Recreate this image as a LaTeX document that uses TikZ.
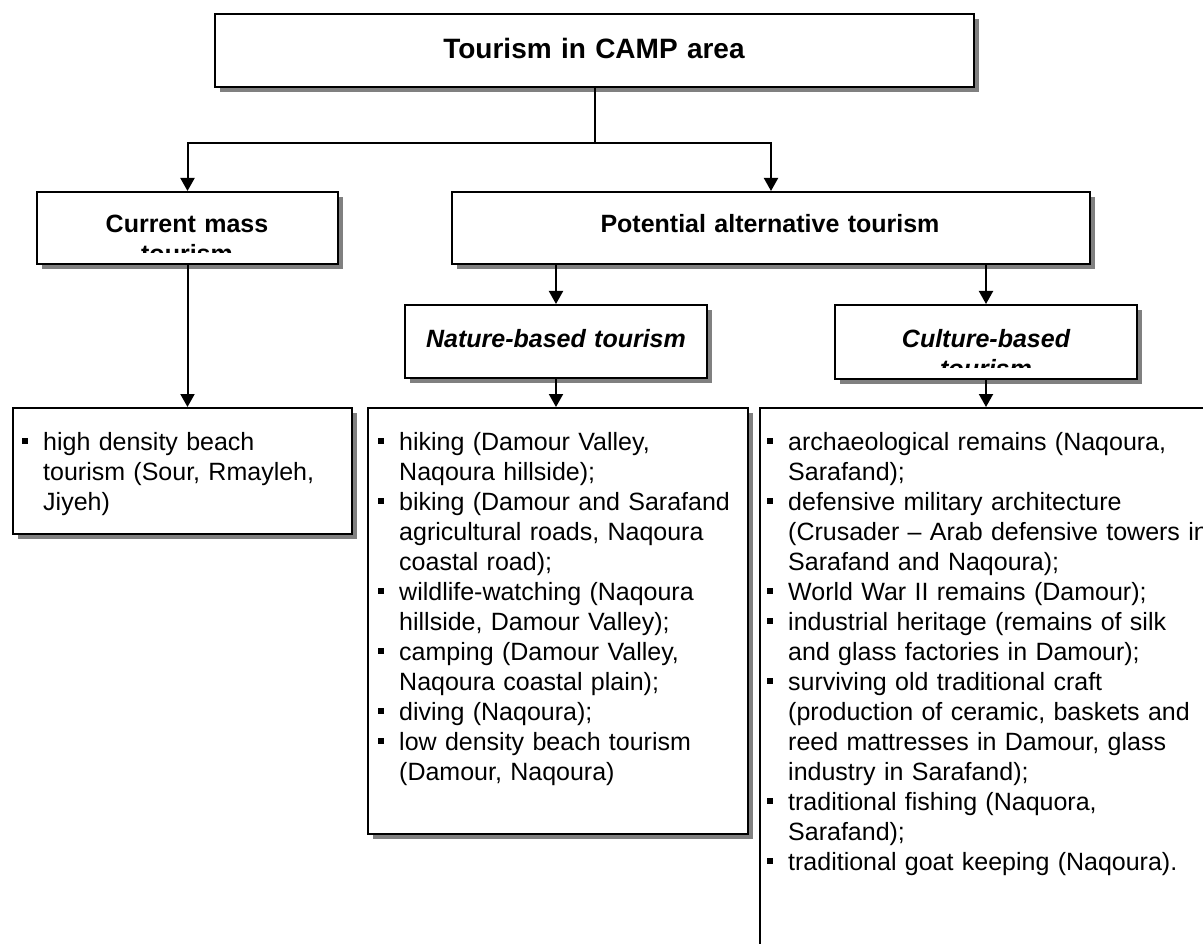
\documentclass[tikz,border=0pt]{standalone}
\usepackage{fontspec}
\setmainfont{Liberation Sans}
\usetikzlibrary{arrows.meta,shadows}
\definecolor{shadowgray}{RGB}{128,128,128}
\newcommand\bitem{\makebox[21pt][l]{\rule[6pt]{6pt}{6pt}}}
\newcommand\bcont{\hspace*{21pt}}
\begin{document}
\begin{tikzpicture}[x=1pt,y=-1pt,
  box/.style={draw=black, line width=2pt, fill=white, inner sep=0pt, anchor=north west},
  shadowed/.style={drop shadow={shadow xshift=5pt, shadow yshift=-5pt, fill=shadowgray, opacity=1}},
  conn/.style={line width=2pt, draw=black},
  arr/.style={conn, -{Triangle[length=13pt,width=14pt]}},
  title/.style={font=\fontsize{25}{30}\selectfont\bfseries, inner sep=0pt, anchor=base, text width=420pt, align=center},
  ititle/.style={title, font=\fontsize{25}{30}\selectfont\bfseries\itshape},
  list/.style={font=\fontsize{25}{30}\selectfont, inner sep=0pt, anchor=base west, text width=520pt, align=left}
]
\useasboundingbox (0,0) rectangle (1203,944);
\clip (0,0) rectangle (1203,944);

% boxes
\node[box, shadowed, minimum width=759pt, minimum height=73pt] (top) at (214,13) {};
\node[box, shadowed, minimum width=301pt, minimum height=72pt] (cur) at (36,191) {};
\node[box, shadowed, minimum width=638pt, minimum height=72pt] (pot) at (451,191) {};
\node[box, shadowed, minimum width=302pt, minimum height=73pt] (nat) at (404,304) {};
\node[box, shadowed, minimum width=302pt, minimum height=74pt] (cul) at (834,304) {};
\node[box, shadowed, minimum width=339pt, minimum height=126pt] (hd) at (12,407) {};
\node[box, shadowed, minimum width=380pt, minimum height=426pt] (natl) at (367,407) {};
\node[box, minimum width=480pt, minimum height=600pt] (cull) at (759,407) {};

% connectors
\coordinate (j) at (595,143);
\draw[conn] (top.south -| j) -- (j);
\draw[arr] (j) -| (cur.north);
\draw[arr] (j) -| (pot.north);
\draw[arr] (pot.south -| nat.north) -- (nat.north);
\draw[arr] (pot.south -| cul.north) -- (cul.north);
\draw[arr] (cur.south) -- (cur.south |- hd.north);
\draw[arr] (nat.south) -- (nat.south |- natl.north);
\draw[arr] (cul.south) -- (cul.south |- cull.north);

% titles
\node[title, font=\fontsize{28}{34}\selectfont\bfseries] (toptxt) at (594,59) {Tourism in CAMP area};
\begin{scope}
  \clip (36,191) rectangle (337,253);
  \node[title] (curtxt) at (187,233) {Current mass\\tourism};
\end{scope}
\node[title] (pottxt) at (770,233) {Potential alternative tourism};
\node[ititle] (nattxt) at (556,347) {Nature-based tourism};
\begin{scope}
  \clip (834,304) rectangle (1136,367);
  \node[ititle] (cultxt) at (986,347) {Culture-based\\tourism};
\end{scope}

% lists
\node[list] (hdtxt) at (22,450) {\bitem high density beach\\
\bcont tourism (Sour, Rmayleh,\\
\bcont Jiyeh)};

\node[list] (nattxtl) at (378,450) {\bitem hiking (Damour Valley,\\
\bcont Naqoura hillside);\\
\bitem biking (Damour and Sarafand\\
\bcont agricultural roads, Naqoura\\
\bcont coastal road);\\
\bitem wildlife-watching (Naqoura\\
\bcont hillside, Damour Valley);\\
\bitem camping (Damour Valley,\\
\bcont Naqoura coastal plain);\\
\bitem diving (Naqoura);\\
\bitem low density beach tourism\\
\bcont (Damour, Naqoura)};

\node[list] (cultxtl) at (767,450) {\bitem archaeological remains (Naqoura,\\
\bcont Sarafand);\\
\bitem defensive military architecture\\
\bcont (Crusader – Arab defensive towers in\\
\bcont Sarafand and Naqoura);\\
\bitem World War II remains (Damour);\\
\bitem industrial heritage (remains of silk\\
\bcont and glass factories in Damour);\\
\bitem surviving old traditional craft\\
\bcont (production of ceramic, baskets and\\
\bcont reed mattresses in Damour, glass\\
\bcont industry in Sarafand);\\
\bitem traditional fishing (Naquora,\\
\bcont Sarafand);\\
\bitem traditional goat keeping (Naqoura).};
\end{tikzpicture}
\end{document}
